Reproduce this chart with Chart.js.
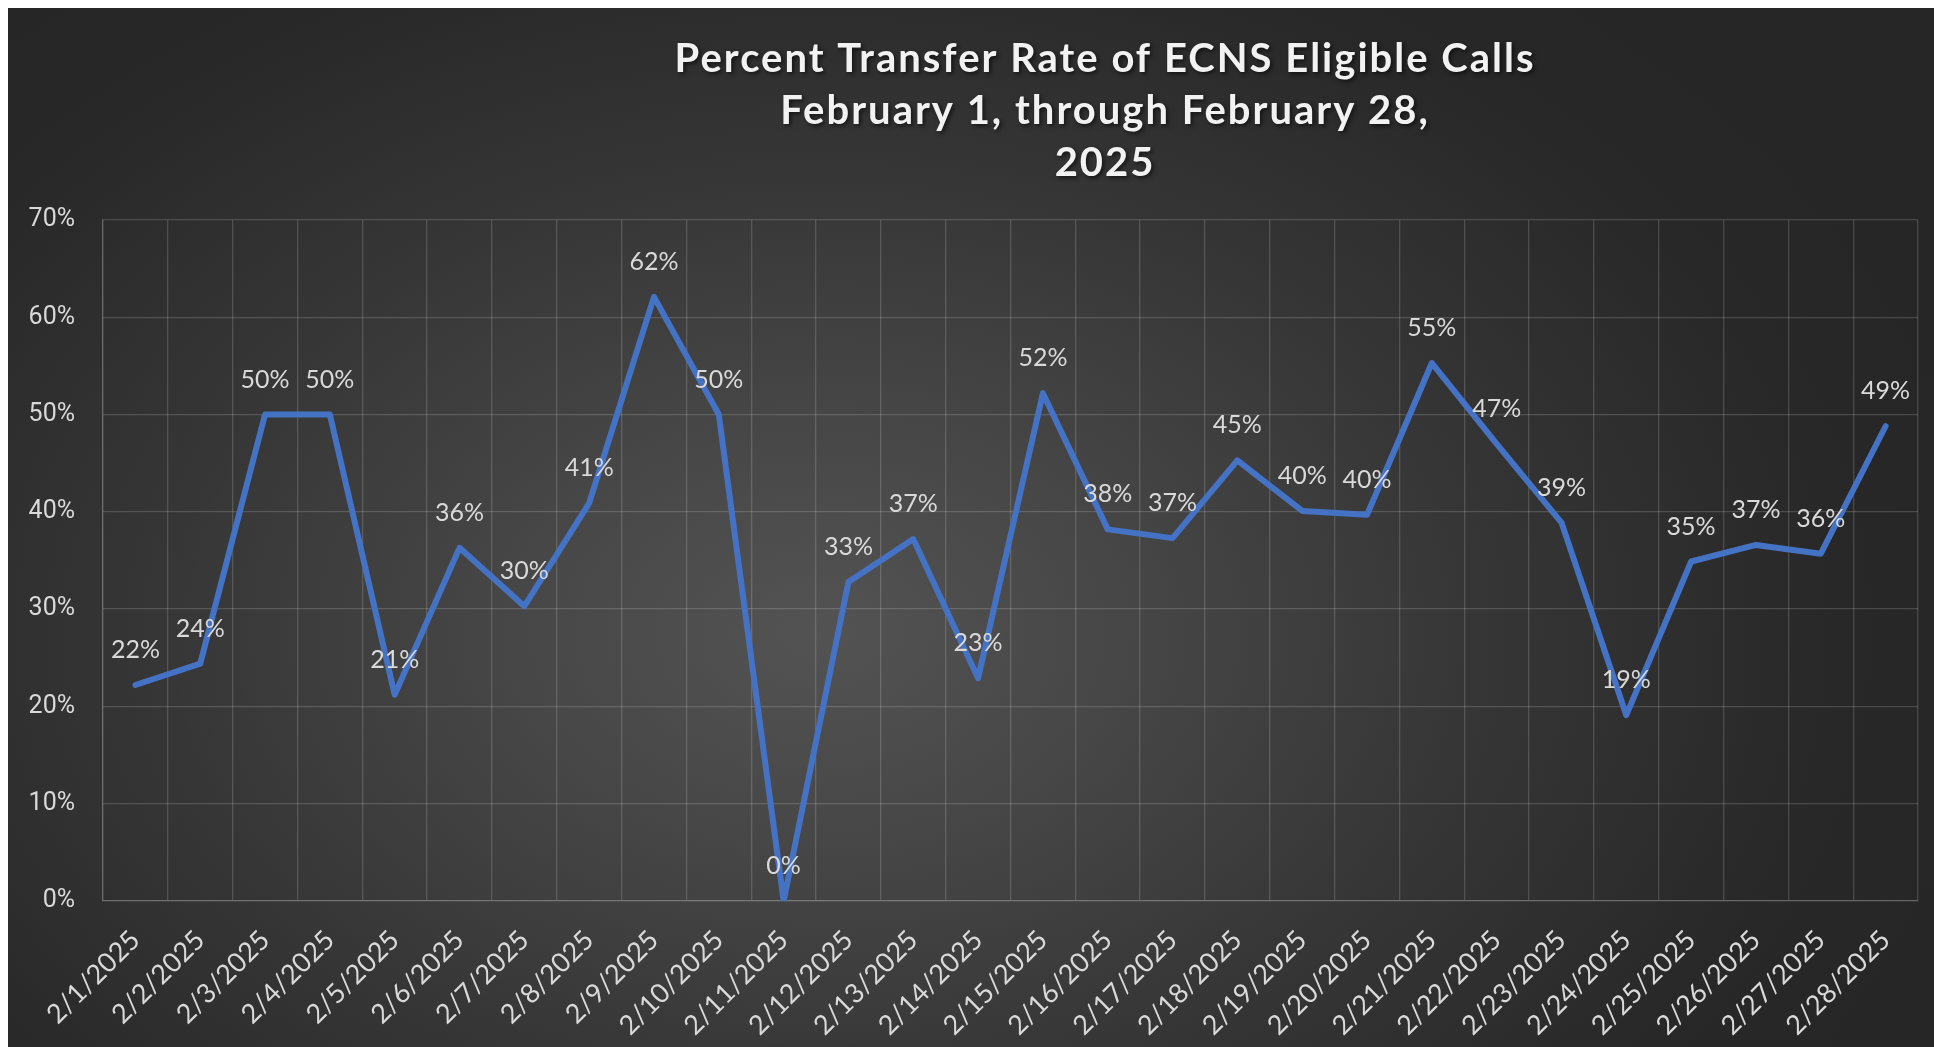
<!DOCTYPE html>
<html><head><meta charset="utf-8">
<script src="https://cdn.jsdelivr.net/npm/chart.js@4/dist/chart.umd.min.js"></script>
<style>
html,body{margin:0;padding:0;background:#ffffff;}
#wrap{position:absolute;left:8px;top:8px;width:1926px;height:1039px;
background: radial-gradient(ellipse 62% 80% at 42% 60%, #535353 0%, #474747 25%, #363636 55%, #282828 85%, #262626 100%);}
canvas{display:block}
</style></head><body>
<div id="wrap"><canvas id="c" width="1926" height="1039"></canvas></div>
<script>
const categories = ["2/1/2025","2/2/2025","2/3/2025","2/4/2025","2/5/2025","2/6/2025","2/7/2025","2/8/2025","2/9/2025","2/10/2025","2/11/2025","2/12/2025","2/13/2025","2/14/2025","2/15/2025","2/16/2025","2/17/2025","2/18/2025","2/19/2025","2/20/2025","2/21/2025","2/22/2025","2/23/2025","2/24/2025","2/25/2025","2/26/2025","2/27/2025","2/28/2025"];
const transferRate = [22.2,24.4,50.0,50.0,21.2,36.3,30.3,40.9,62.1,50.0,0.0,32.8,37.2,22.9,52.2,38.2,37.3,45.3,40.1,39.7,55.3,47.0,38.9,19.1,34.9,36.6,35.7,48.8];
const yMin = 0, yMax = 70, yStep = 10;
const titleLines = ["Percent Transfer Rate of ECNS Eligible Calls","February 1, through February 28,","2025"];

const gridColor = "rgba(255,255,255,0.16)";
const textColor = "#d9d9d9";

const titlePlugin = {
  id: "customTitle",
  afterDraw(chart) {
    const ctx = chart.ctx;
    ctx.save();
    ctx.font = "bold 40px Lato";
    ctx.fillStyle = "#f2f2f2";
    ctx.textAlign = "center";
    ctx.textBaseline = "alphabetic";
    if ('letterSpacing' in ctx) ctx.letterSpacing = "2px";
    ctx.shadowColor = "rgba(0,0,0,0.6)";
    ctx.shadowBlur = 4;
    ctx.shadowOffsetX = 2;
    ctx.shadowOffsetY = 2;
    const cx = chart.width * 0.5696;
    const baselines = [64, 116, 168];
    titleLines.forEach((t, i) => ctx.fillText(t, cx, baselines[i]));
    ctx.restore();
  }
};

const labelPlugin = {
  id: "pointLabels",
  afterDatasetsDraw(chart) {
    const ctx = chart.ctx;
    const meta = chart.getDatasetMeta(0);
    const data = chart.data.datasets[0].data;
    ctx.save();
    ctx.font = "25px Lato";
    ctx.fillStyle = textColor;
    ctx.textAlign = "center";
    ctx.textBaseline = "middle";
    meta.data.forEach((pt, i) => {
      ctx.fillText(Math.round(data[i]) + "%", pt.x, pt.y - 35);
    });
    ctx.restore();
  }
};

new Chart(document.getElementById("c"), {
  type: "line",
  data: {
    labels: categories,
    datasets: [{
      data: transferRate,
      borderColor: "#4472C4",
      borderWidth: 6,
      borderCapStyle: "round",
      borderJoinStyle: "round",
      pointRadius: 0,
      pointHoverRadius: 0,
      tension: 0,
      fill: false
    }]
  },
  options: {
    responsive: false,
    animation: false,
    devicePixelRatio: 1,
    layout: { padding: { top: 212, right: 16, left: 0, bottom: 0 } },
    plugins: { legend: { display: false }, tooltip: { enabled: false }, title: { display: false } },
    scales: {
      x: {
        type: "category",
        offset: true,
        grid: { color: gridColor, offset: true, drawTicks: false, lineWidth: 1.3 },
        border: { color: gridColor, width: 1.3 },
        ticks: {
          color: textColor,
          font: { family: "Lato", size: 27 },
          minRotation: 45, maxRotation: 45,
          padding: 23,
          autoSkip: false
        },
        afterFit(scale) { scale.height = 146; }
      },
      y: {
        min: yMin, max: yMax,
        grid: { color: gridColor, drawTicks: false, lineWidth: 1.3 },
        border: { color: gridColor, width: 1.3 },
        ticks: {
          stepSize: yStep,
          color: textColor,
          font: { family: "Roboto", size: 25 },
          padding: 28,
          callback: v => v + "%"
        },
        afterFit(scale) { scale.width = 95; }
      }
    }
  },
  plugins: [titlePlugin, labelPlugin]
});
</script>
</body></html>
